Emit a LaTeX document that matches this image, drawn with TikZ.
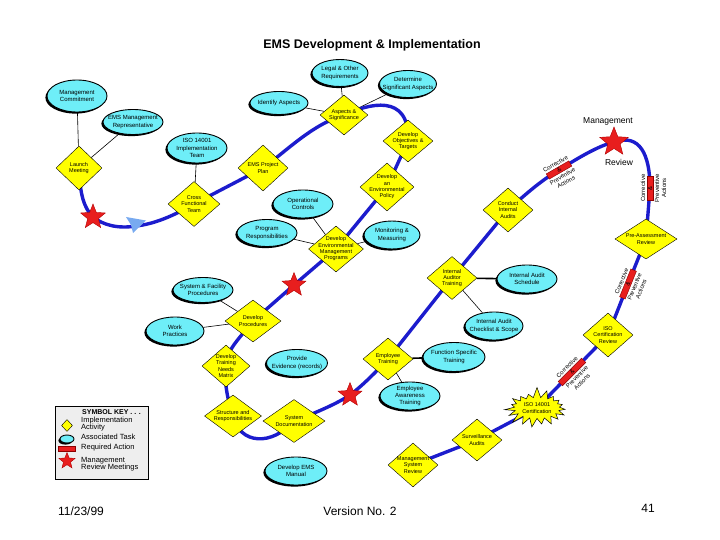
\documentclass[tikz,border=0pt]{standalone}
\usepackage{fontspec}
\setmainfont{Liberation Sans}
\usetikzlibrary{shapes.geometric,shapes.symbols,shadows,calc}
\definecolor{dyellow}{RGB}{255,255,0}
\definecolor{tcyan}{RGB}{110,238,248}
\definecolor{pathblue}{RGB}{28,28,205}
\definecolor{actred}{RGB}{232,30,30}
\definecolor{keygray}{RGB}{238,238,238}
\definecolor{arrblue}{RGB}{120,170,240}
\pgfdeclarelayer{bg}
\pgfsetlayers{bg,main}
\tikzset{
  dia/.style={diamond, fill=dyellow, draw=black, line width=0.4pt, inner sep=0pt},
  task/.style={ellipse, fill=tcyan, draw=black, line width=0.9pt, inner sep=0pt,
     drop shadow={shadow xshift=-1.6pt, shadow yshift=-1.6pt, fill=black, opacity=1}},
  dtxt/.style={font=\fontsize{5.5}{6.3}\selectfont, align=center, inner sep=0pt},
  ttxt/.style={font=\fontsize{6}{7.2}\selectfont, align=center, inner sep=0pt},
  flow/.style={draw=pathblue, line width=3.4pt},
  link/.style={draw=black, line width=0.6pt},
  boldlink/.style={draw=black, line width=1.6pt},
  mstar/.style={star, star points=5, star point ratio=2.3, fill=actred, draw=red!70!black, line width=0.4pt, inner sep=0pt},
  actbar/.style={rectangle, fill=actred, draw=red!55!black, line width=0.4pt, minimum height=6pt, inner sep=0pt},
  barlbl/.style={font=\fontsize{6}{7}\selectfont, align=center, inner sep=0pt},
  keytxt/.style={font=\fontsize{7.5}{7}\selectfont, align=left, anchor=west, inner sep=0pt},
  foot/.style={font=\fontsize{12}{14}\selectfont, inner sep=0pt},
}
\newcommand{\DiaNode}[5]{\node[dia, minimum width=#4pt, minimum height=#5pt] (#1) at (#2) {}; \node[dtxt] (#1-t) at (#1) {#3};}
\newcommand{\TaskNode}[5]{\node[task, minimum width=#4pt, minimum height=#5pt] (#1) at (#2) {}; \node[ttxt] (#1-t) at (#1) {#3};}
\begin{document}
\begin{tikzpicture}[x=1pt,y=-1pt]
\useasboundingbox (0,0) rectangle (720,540);
\node[font=\bfseries\fontsize{12.5}{14}\selectfont] (title) at (372,45) {EMS Development \& Implementation};

% associated tasks
\TaskNode{mc}{77,96}{Management\\Commitment}{60}{32}
\TaskNode{emr}{133,122}{EMS Management\\Representative}{60}{25}
\TaskNode{iso}{197,148}{ISO 14001\\Implementation\\Team}{60}{30}
\TaskNode{ia}{279,103}{Identify Aspects}{58}{23}
\TaskNode{lor}{340,73}{Legal \& Other\\Requirements}{56}{27}
\TaskNode{dsa}{408,84}{Determine\\Significant Aspects}{57}{27}
\TaskNode{oc}{303,204}{Operational\\Controls}{60}{28}
\TaskNode{pr}{267,233}{Program\\Responsibilities}{60}{27}
\TaskNode{mm}{392,235}{Monitoring \&\\Measuring}{56}{28}
\TaskNode{sfp}{203,290}{System \& Facility\\Procedures}{60}{25}
\TaskNode{wp}{175,331}{Work\\Practices}{58}{28}
\TaskNode{ias}{527,279}{Internal Audit\\Schedule}{60}{28}
\TaskNode{iac}{494,326}{Internal Audit\\Checklist \& Scope}{58}{28}
\TaskNode{pe}{297,363}{Provide\\Evidence (records)}{61}{27}
\TaskNode{fst}{454,357}{Function Specific\\Training}{62}{29}
\TaskNode{eat}{410,396}{Employee\\Awareness\\Training}{60}{28}
\TaskNode{man}{296,471}{Develop EMS\\Manual}{62}{28}

% implementation activities
\DiaNode{lm}{79,168}{Launch\\Meeting}{46}{44}
\DiaNode{cft}{194,204}{Cross\\Functional\\Team}{52}{45}
\DiaNode{pp}{263,168}{EMS Project\\Plan}{50}{46}
\DiaNode{as}{344,115}{Aspects \&\\Significance}{48}{40}
\DiaNode{dot}{408,141}{Develop\\Objectives \&\\Targets}{50}{42}
\DiaNode{dep}{387,187}{Develop\\an\\Environmental\\Policy}{54}{48}
\DiaNode{dem}{336,249}{Develop\\Environmental\\Management\\Programs}{55}{46}
\DiaNode{cia}{508,210}{Conduct\\Internal\\Audits}{50}{44}
\DiaNode{pre}{646,239}{Pre-Assessment\\Review}{62}{40}
\DiaNode{iat}{452,278}{Internal\\Auditor\\Training}{50}{43}
\DiaNode{icr}{608,335}{ISO\\Certification\\Review}{50}{44}
\DiaNode{dp}{253,321}{Develop\\Procedures}{56}{42}
\DiaNode{dtn}{226,366}{Develop\\Training\\Needs\\Matrix}{48}{42}
\DiaNode{et}{388,359}{Employee\\Training}{50}{42}
\DiaNode{sr}{233,416}{Structure and\\Responsibilities}{57}{42}
\DiaNode{sd}{294,421}{System\\Documentation}{62}{43}
\DiaNode{sv}{477,440}{Surveillance\\Audits}{50}{42}
\DiaNode{msr}{413,465}{Management\\System\\Review}{50}{44}

% certification starburst
\node[starburst, starburst points=19, starburst point height=11pt, random starburst=7,
      fill=dyellow, draw=black, line width=0.5pt, minimum width=67pt, minimum height=43pt, inner sep=0pt] (cert) at (537,408) {};
\node[dtxt] (cert-t) at (cert) {ISO 14001\\Certification};

% management review stars
\node[mstar, minimum size=26pt] (s1) at (93,217) {};
\node[mstar, minimum size=25pt] (s2) at (294,285) {};
\node[mstar, minimum size=25pt] (s3) at (350,395) {};
\node[mstar, minimum size=30pt] (mr) at (614,142) {};
\node[font=\fontsize{8.5}{9}\selectfont, inner sep=0pt] (mrt) at (608,121) {Management};
\node[font=\fontsize{8.5}{9}\selectfont, inner sep=0pt] (mrr) at (619,162) {Review};

% light blue arrow on the path
\coordinate (arr) at (136,226);
\fill[arrblue] (126,217) -- (146,220.5) -- (133,233) -- (131,225) -- cycle;

% required actions
\node[actbar, minimum width=26pt, rotate=30] (b1) at (559,170) {};
\node[actbar, minimum width=24pt, rotate=90] (b2) at (650,188) {};
\node[actbar, minimum width=30pt, rotate=68] (b3) at (628,284) {};
\node[actbar, minimum width=33pt, rotate=45] (b4) at (572,372) {};
\foreach \b/\a in {b1/30,b2/90,b3/68,b4/45}{
  \node[barlbl, rotate=\a] (\b-l) at ($(\b)+({90-\a}:3.5)$) {Corrective\\\&\\Preventive\\Actions};
}

% symbol key
\node[draw=black, fill=keygray, line width=0.6pt, minimum width=93pt, minimum height=73pt, inner sep=0pt] (key) at (101.5,442.5) {};
\node[font=\bfseries\fontsize{7}{7}\selectfont, anchor=west, inner sep=0pt] (keyt) at (82,412) {SYMBOL KEY . . .};
\node[dia, minimum width=11pt, minimum height=12pt] (kd) at (67,425.5) {};
\node[keytxt] (kdt) at (81,424.5) {Implementation\\Activity};
\node[task, minimum width=14pt, minimum height=8pt] (ke) at (67,439) {};
\node[keytxt] (ket) at (81,437) {Associated Task};
\node[actbar, minimum width=17pt, minimum height=5pt] (kb) at (67,449) {};
\node[keytxt] (kbt) at (81,448) {Required Action};
\node[mstar, minimum size=17pt] (ks) at (67,461) {};
\node[keytxt] (kst) at (81,464) {Management\\Review Meetings};

% footer
\node[foot] (date) at (81,511) {11/23/99};
\node[foot] (ver) at (360,511) {Version No. 2};
\node[foot] (pg) at (648,508) {41};

\begin{pgfonlayer}{bg}
\draw[link] (mc) -- (lm);
\draw[link] (emr) -- (lm);
\draw[link] (iso) -- (cft);
\draw[link] (ia) -- (as);
\draw[link] (lor) -- (as);
\draw[link] (dsa) -- (as);
\draw[link] (oc) -- (dem);
\draw[link] (pr) -- (dem);
\draw[link] (mm) -- (dem);
\draw[link] (sfp) -- (dp);
\draw[link] (wp) -- (dp);
\draw[boldlink] (iat) -- (ias);
\draw[link] (iat) -- (iac);
\draw[boldlink] (et) -- (fst);
\draw[link] (et) -- (eat);
\draw[flow] (lm.center) .. controls (80,195) and (84,208) .. (s1.center)
  .. controls (103,225) and (118,229) .. (arr)
  .. controls (155,224) and (175,215) .. (cft.center)
  -- (pp.center)
  .. controls (290,148) and (312,125) .. (as.center)
  .. controls (368,104) and (410,92) .. (dot.center)
  -- (dep.center) -- (dem.center) -- (s2.center) -- (dp.center)
  .. controls (240,338) and (226,350) .. (dtn.center)
  .. controls (224,385) and (228,400) .. (sr.center)
  .. controls (240,445) and (272,446) .. (sd.center)
  .. controls (318,412) and (338,403) .. (s3.center)
  .. controls (362,386) and (376,372) .. (et.center)
  -- (iat.center) -- (cia.center)
  .. controls (528,192) and (542,180) .. (b1.center)
  .. controls (578,158) and (598,146) .. (mr.center)
  .. controls (640,133) and (650,155) .. (b2.center)
  -- (pre.center) -- (b3.center) -- (icr.center) -- (b4.center) -- (cert.center)
  .. controls (515,420) and (495,430) .. (sv.center)
  -- (msr.center);
\end{pgfonlayer}
\end{tikzpicture}
\end{document}
